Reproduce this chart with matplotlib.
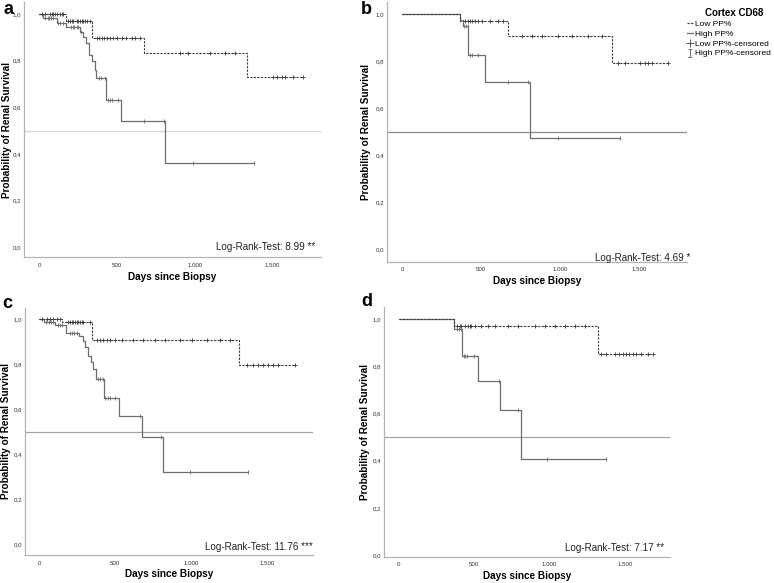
import numpy as np
import matplotlib
matplotlib.use("Agg")
import matplotlib.pyplot as plt
from matplotlib.lines import Line2D
from matplotlib.path import Path

plt.rcParams['font.family'] = ['Liberation Sans', 'DejaVu Sans']

# ---------------- data ----------------
panel_letters = ["a", "b", "c", "d"]
logrank_texts = ["Log-Rank-Test: 8.99 **", "Log-Rank-Test: 4.69 *",
                 "Log-Rank-Test: 11.76 ***", "Log-Rank-Test: 7.17 **"]
x_ticks = [0, 500, 1000, 1500]
x_tick_labels = ["0", "500", "1.000", "1.500"]
y_ticks = [0.0, 0.2, 0.4, 0.6, 0.8, 1.0]
y_tick_labels = ["0,0", "0,2", "0,4", "0,6", "0,8", "1,0"]
legend_title = "Cortex CD68"
legend_labels = ["Low PP%", "High PP%", "Low PP%-censored", "High PP%-censored"]

# panel a
a_low_times = [0, 172, 337, 673, 1333]
a_low_surv = [1.0, 0.970, 0.896, 0.831, 0.728]
a_low_end = 1694
a_low_cens = [15, 37, 69, 80, 91, 101, 112, 133, 144, 155, 187, 197, 208, 219, 240, 251,
              262, 273, 283, 294, 305, 326, 369, 386, 401, 416, 433, 455, 476, 498, 530,
              557, 594, 615, 647, 905, 958, 1098, 1194, 1258, 1505, 1526, 1558, 1580,
              1629, 1694]
a_high_times = [0, 22, 111, 171, 261, 282, 299, 320, 336, 357, 368, 428, 524, 810]
a_high_surv = [1.0, 0.983, 0.963, 0.943, 0.923, 0.900, 0.876, 0.825, 0.797, 0.761,
               0.725, 0.631, 0.541, 0.362]
a_high_end = 1378
a_high_cens = [40, 55, 65, 75, 90, 120, 135, 150, 205, 215, 225, 240, 250, 268, 385, 400,
               420, 440, 455, 470, 505, 675, 800, 990, 1378]

# panel b
b_low_times = [0, 367, 673, 1327]
b_low_surv = [1.0, 0.971, 0.906, 0.793]
b_low_end = 1686
b_low_cens = [399, 420, 430, 445, 462, 479, 504, 557, 610, 641, 758, 821, 884, 990, 1074,
              1180, 1264, 1369, 1412, 1507, 1538, 1559, 1580, 1686]
b_high_times = [0, 367, 385, 420, 525, 810]
b_high_surv = [1.0, 0.975, 0.948, 0.827, 0.712, 0.474]
b_high_end = 1380
b_high_cens = [395, 405, 415, 430, 440, 480, 669, 800, 985, 1380]

# panel c
c_low_times = [0, 147, 345, 1318]
c_low_surv = [1.0, 0.988, 0.907, 0.794]
c_low_end = 1685
c_low_cens = [16, 49, 70, 92, 114, 136, 191, 202, 213, 224, 235, 246, 257, 268, 279, 290,
              334, 378, 400, 422, 444, 466, 499, 543, 620, 686, 763, 828, 927, 1004, 1103,
              1191, 1257, 1366, 1410, 1443, 1476, 1509, 1542, 1575, 1685]
c_high_times = [0, 31, 104, 176, 264, 286, 301, 323, 339, 356, 372, 427, 525, 675, 813]
c_high_surv = [1.0, 0.987, 0.972, 0.939, 0.924, 0.901, 0.876, 0.836, 0.809, 0.779,
               0.735, 0.650, 0.570, 0.477, 0.320]
c_high_end = 1377
c_high_cens = [45, 60, 75, 90, 120, 135, 150, 200, 215, 230, 245, 385, 400, 420, 435, 450,
               465, 500, 665, 800, 990, 1377]

# panel d
d_low_times = [0, 366, 1319]
d_low_surv = [1.0, 0.972, 0.850]
d_low_end = 1684
d_low_cens = [382, 404, 415, 437, 459, 470, 481, 503, 547, 591, 636, 724, 790, 900, 967,
              1033, 1099, 1165, 1231, 1342, 1375, 1430, 1463, 1485, 1507, 1529, 1551, 1573,
              1606, 1650, 1684]
d_high_times = [0, 366, 421, 525, 668, 808]
d_high_surv = [1.0, 0.956, 0.843, 0.737, 0.614, 0.406]
d_high_end = 1375
d_high_cens = [385, 400, 415, 430, 440, 450, 495, 665, 790, 985, 1375]

panels = [
    (a_low_times, a_low_surv, a_low_end, a_low_cens, a_high_times, a_high_surv, a_high_end, a_high_cens),
    (b_low_times, b_low_surv, b_low_end, b_low_cens, b_high_times, b_high_surv, b_high_end, b_high_cens),
    (c_low_times, c_low_surv, c_low_end, c_low_cens, c_high_times, c_high_surv, c_high_end, c_high_cens),
    (d_low_times, d_low_surv, d_low_end, d_low_cens, d_high_times, d_high_surv, d_high_end, d_high_cens),
]

# ---------------- layout ----------------
W, H = 774, 583
fig = plt.figure(figsize=(W / 100, H / 100), dpi=100)

# axes in pixels: left, right, bottom
ax_px = [(24, 321, 257), (387, 687, 262), (25, 313, 555), (384, 670, 557)]
xlims = [(-98, 1811), (-95, 1804), (-95, 1804), (-99, 1798)]
ylims = [(-0.043, 1.05), (-0.055, 1.05), (-0.049, 1.05), (-0.008, 1.05)]
# pixel positions of y=1.0 and y=0.0 for each panel
y_cal = [(14, 247), (14, 249), (319, 544), (319, 555)]
ref_colors = ["#d6d6d6", "#8c8c8c", "#a4a4a4", "#a4a4a4"]
letter_pos = [(8, 10), (366, 9), (7, 303), (367, 302)]
text_pos = [(315, 247), (690, 258), (313, 547), (664, 548)]
ylabel_x = [7, 366, 6.5, 365]
xlabel_y = [277, 281.5, 574, 576]

low_color = "#3c3c3c"
high_color = "#6e6e6e"

for i, (lt, ls, le, lc, ht, hs, he, hc) in enumerate(panels):
    left, right, bottom = ax_px[i]
    y1, y0 = y_cal[i]
    ppu = y0 - y1
    ylo, yhi = ylims[i]
    top_px = y0 - yhi * ppu
    bot_px = y0 - ylo * ppu
    ax = fig.add_axes([left / W, 1 - bot_px / H, (right - left) / W, (bot_px - top_px) / H])
    ax.set_xlim(*xlims[i])
    ax.set_ylim(ylo, yhi)

    ax.axhline(0.5, color=ref_colors[i], lw=0.9, zorder=1)

    # Low group (dashed)
    ax.step(list(lt) + [le], list(ls) + [ls[-1]], where='post', color=low_color,
            lw=0.8, ls=(0, (2.0, 1.2)), zorder=3)
    idx = np.searchsorted(lt, lc, side='right') - 1
    ax.plot(lc, np.array(ls)[idx], ls='none', marker='+', ms=3.0, mew=0.6,
            color=low_color, zorder=4)

    # High group (solid)
    ax.step(list(ht) + [he], list(hs) + [hs[-1]], where='post', color=high_color,
            lw=0.9, zorder=2)
    idx = np.searchsorted(ht, hc, side='right') - 1
    ax.plot(hc, np.array(hs)[idx], ls='none', marker='|', ms=3.2, mew=0.6,
            color=high_color, zorder=4)

    ax.set_xticks(x_ticks)
    ax.set_xticklabels(x_tick_labels)
    ax.set_yticks(y_ticks)
    ax.set_yticklabels(y_tick_labels)
    ax.tick_params(axis='both', length=0, labelsize=4.4, colors='#333333')
    ax.tick_params(axis='y', pad=2)
    ax.tick_params(axis='x', pad=4)
    for s in ['top', 'right']:
        ax.spines[s].set_visible(False)
    for s in ['left', 'bottom']:
        ax.spines[s].set_color('#b4b4b4')
        ax.spines[s].set_linewidth(0.9)
    ax.set_xlabel("Days since Biopsy", fontsize=7.2, fontweight='bold')
    ax.set_ylabel("Probability of Renal Survival", fontsize=7.2, fontweight='bold')
    ax.xaxis.label.set_va('center')
    ax.yaxis.label.set_va('center')
    ax.xaxis.set_label_coords(((left + right) / 2) / W, 1 - xlabel_y[i] / H,
                              transform=fig.transFigure)
    ax.yaxis.set_label_coords(ylabel_x[i] / W, 1 - ((top_px + bot_px) / 2) / H,
                              transform=fig.transFigure)
    ax.patch.set_alpha(0)

    fig.text(letter_pos[i][0] / W, 1 - letter_pos[i][1] / H, panel_letters[i],
             fontsize=13, fontweight='bold', ha='center', va='center')
    fig.text(text_pos[i][0] / W, 1 - text_pos[i][1] / H, logrank_texts[i],
             fontsize=7.1, ha='right', va='center', color='#222222')

# legend
i_marker = Path([(-0.5, 1), (0.5, 1), (0, 1), (0, -1), (-0.5, -1), (0.5, -1)],
                [Path.MOVETO, Path.LINETO, Path.MOVETO, Path.LINETO, Path.MOVETO, Path.LINETO])
handles = [
    Line2D([], [], color=low_color, lw=0.8, ls=(0, (2.0, 1.2))),
    Line2D([], [], color=high_color, lw=0.9),
    Line2D([], [], color=low_color, ls='none', marker='+', ms=6, mew=0.6),
    Line2D([], [], color=high_color, ls='none', marker=i_marker, ms=6, mew=0.7,
           fillstyle='none'),
]
leg = fig.legend(handles, legend_labels, loc='upper left',
                 bbox_to_anchor=(681 / W, 1 - 2 / H), frameon=False,
                 fontsize=6, title=legend_title, handlelength=0.8,
                 handletextpad=0.2, labelspacing=0.25, borderpad=0.2,
                 title_fontproperties={'weight': 'bold', 'size': 7})
leg._legend_box.align = "left"
leg.get_title().set_position((18, 0))

fig.savefig("out.png", dpi=100)
